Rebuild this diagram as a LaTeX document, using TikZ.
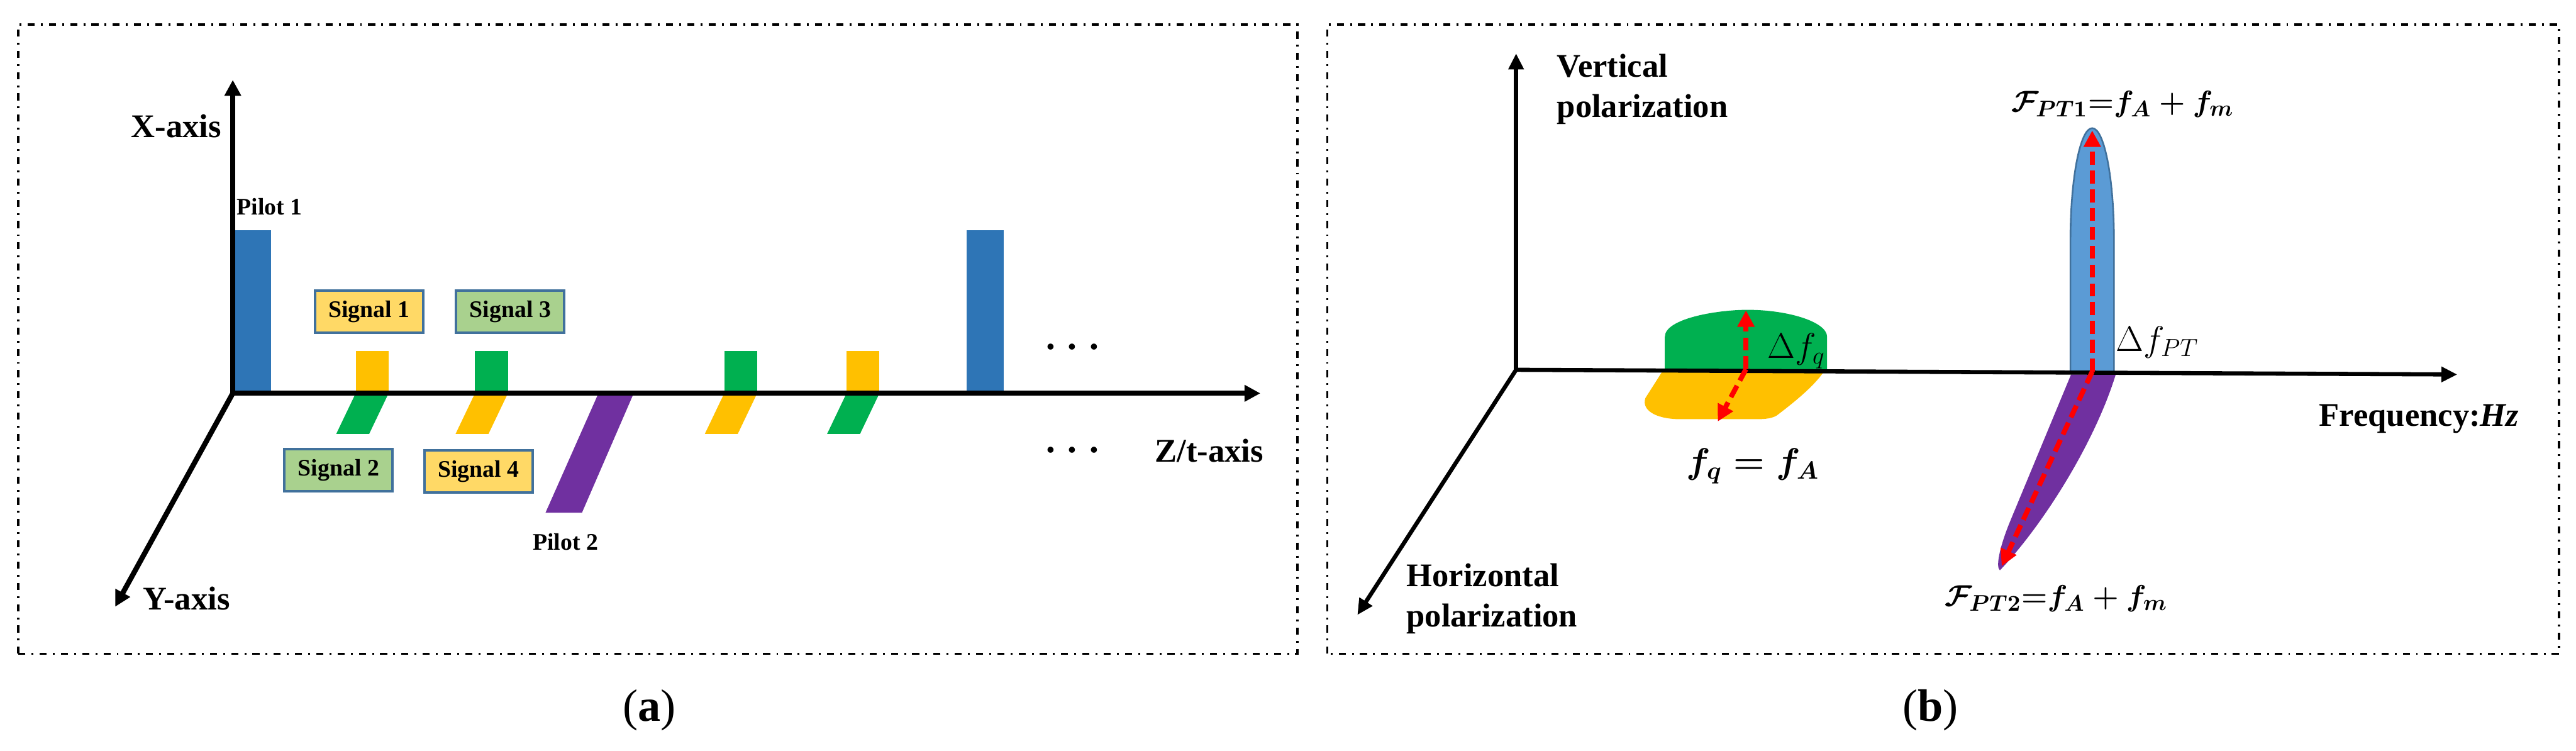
\documentclass[tikz,border=0pt]{standalone}
\usepackage{fontspec}
\setmainfont{Liberation Serif}
\usepackage{amsmath}
\usetikzlibrary{arrows.meta, positioning}
\definecolor{pilotBlue}{HTML}{2E75B6}
\definecolor{pilotPurple}{HTML}{7030A0}
\definecolor{sigYellow}{HTML}{FFC000}
\definecolor{sigGreen}{HTML}{00B050}
\definecolor{boxYellow}{HTML}{FFD966}
\definecolor{boxGreen}{HTML}{A9D18E}
\definecolor{boxBorder}{HTML}{41719C}
\definecolor{lobeBlue}{HTML}{5B9BD5}

\begin{document}
\begin{tikzpicture}[
        frame/.style={line width=1.1pt, dash pattern=on 3.4pt off 3pt on 0.9pt off 3pt},
        ax/.style={line width=2.5pt, -{Triangle[length=0.27cm, width=0.27cm]}},
        axb/.style={line width=2pt, -{Triangle[length=0.27cm, width=0.25cm]}},
        lbl/.style={font=\fontsize{16pt}{19.5pt}\selectfont\bfseries, inner sep=0pt},
        sm/.style={font=\fontsize{11.5pt}{14pt}\selectfont\bfseries, inner sep=0pt},
        sig/.style={draw=boxBorder, line width=1.2pt, minimum width=1.84cm, minimum height=0.72cm,
            inner sep=0pt, font=\fontsize{11.5pt}{14pt}\selectfont\bfseries},
        dotrow/.style={font=\fontsize{18pt}{20pt}\selectfont\bfseries, inner sep=0pt, anchor=base},
        mth/.style={font=\fontsize{15.5pt}{18pt}\selectfont, inner sep=0pt},
        mthd/.style={font=\fontsize{17pt}{20pt}\selectfont, inner sep=0pt},
        capt/.style={font=\fontsize{22pt}{26pt}\selectfont, inner sep=0pt},
        rdash/.style={red, line width=2.4pt, dash pattern=on 0.22cm off 0.1cm,
            -{Triangle[length=0.28cm, width=0.28cm]}}
    ]
        \useasboundingbox (0,0) rectangle (43.82,12.77);

        % (a) pilots and signals
        \draw[frame] (0.31,1.65) rectangle (22.07,12.35);
        \coordinate (oa) at (3.96,6.08);
        \coordinate (xa) at (3.96,11.41);
        \coordinate (za) at (21.44,6.08);
        \coordinate (ya) at (1.96,2.45);
        \fill[pilotBlue] (3.99,6.08) rectangle (4.61,8.85);
        \fill[pilotBlue] (16.44,6.08) rectangle (17.07,8.85);
        \fill[pilotPurple] (10.18,6.08) -- (10.78,6.08) -- (9.90,4.05) -- (9.28,4.05) -- cycle;
        \foreach \x/\up/\dn in {6.05/sigYellow/sigGreen, 8.08/sigGreen/sigYellow,
                12.32/sigGreen/sigYellow, 14.40/sigYellow/sigGreen} {
            \fill[\up] (\x,6.08) rectangle ++(0.56,0.72);
            \fill[\dn] (\x,6.08) -- ++(0.56,0) -- ++(-0.33,-0.69) -- ++(-0.56,0) -- cycle;
        }
        \draw[ax] (oa) -- (xa);
        \draw[ax] (oa) -- (za);
        \draw[ax] (oa) -- (ya);
        \node[lbl] (xlab) at (3.00,10.62) {X-axis};
        \node[lbl] (ylab) at (3.17,2.59) {Y-axis};
        \node[lbl] (zlab) at (20.57,5.10) {Z/t-axis};
        \node[sm, anchor=west] (p1lab) at (4.02,9.25) {Pilot 1};
        \node[sm] (p2lab) at (9.62,3.55) {Pilot 2};
        \node[sig, fill=boxYellow] (s1) at (6.28,7.47) {Signal 1};
        \node[sig, fill=boxGreen] (s3) at (8.68,7.47) {Signal 3};
        \node[sig, fill=boxGreen] (s2) at (5.76,4.77) {Signal 2};
        \node[sig, fill=boxYellow] (s4) at (8.14,4.75) {Signal 4};
        \node[dotrow] (dotsup) at (18.24,6.83) {. . .};
        \node[dotrow] (dotsdn) at (18.24,5.07) {. . .};
        \node[capt] (capa) at (11.05,0.69) {(\textbf{a})};

        % (b) polarization spectrum
        \draw[frame] (22.58,1.65) rectangle (43.53,12.35);
        \coordinate (ob) at (25.79,6.48);
        \coordinate (vb) at (25.79,11.86);
        \coordinate (fb) at (41.80,6.40);
        \coordinate (hb) at (23.09,2.31);
        \fill[sigGreen] (28.32,6.45) -- (28.32,7.04) .. controls (28.32,7.35) and (29.2,7.50) .. (29.73,7.50)
            .. controls (30.4,7.50) and (31.08,7.30) .. (31.08,7.04) -- (31.08,6.45) -- cycle;
        \fill[sigYellow] (28.27,6.44) -- (27.99,6.00) .. controls (27.92,5.80) and (28.15,5.65) .. (28.55,5.64)
            -- (29.90,5.64) .. controls (30.05,5.64) and (30.15,5.66) .. (30.22,5.70)
            .. controls (30.55,5.95) and (30.85,6.20) .. (31.02,6.44) -- cycle;
        \filldraw[fill=lobeBlue, draw=boxBorder, line width=0.8pt] (35.22,6.43) -- (35.22,8.69)
            arc[start angle=180, end angle=0, x radius=0.37, y radius=1.90] -- (35.96,6.43) -- cycle;
        \fill[pilotPurple] (35.23,6.40) -- (34.18,3.87) .. controls (34.00,3.42) and (33.95,3.12) .. (34.02,3.07)
            .. controls (34.72,3.80) and (35.62,5.20) .. (35.99,6.40) -- cycle;
        \draw[axb] (ob) -- (vb);
        \draw[axb] (ob) -- (fb);
        \draw[axb] (ob) -- (hb);
        \coordinate (q0) at (29.70,6.49);
        \coordinate (q1) at (29.70,7.49);
        \coordinate (q2) at (29.22,5.60);
        \coordinate (t0) at (35.59,6.45);
        \coordinate (t1) at (35.59,10.55);
        \coordinate (t2) at (34.05,3.14);
        \draw[rdash] (q0) -- (q1);
        \draw[rdash] (q0) -- (q2);
        \draw[rdash] (t0) -- (t1);
        \draw[rdash] (t0) -- (t2);
        \node[lbl, anchor=west, align=left] (vlab) at (26.48,11.25) {Vertical\\polarization};
        \node[lbl, anchor=west, align=left] (hlab) at (23.92,2.59) {Horizontal\\polarization};
        \node[lbl] (flab) at (41.15,5.64) {Frequency:\textit{Hz}};
        \node[mth] (fpt1) at (36.11,11.00) {$\boldsymbol{\mathcal{F}_{PT1}{=}f_A+f_m}$};
        \node[mth] (fpt2) at (34.98,2.59) {$\boldsymbol{\mathcal{F}_{PT2}{=}f_A+f_m}$};
        \node[mth, font=\fontsize{17pt}{20pt}\selectfont] (fq) at (29.82,4.84) {$\boldsymbol{f_q=f_A}$};
        \node[mthd] (dfq) at (30.56,6.80) {$\Delta f_q$};
        \node[mthd] (dfpt) at (36.70,6.95) {$\Delta f_{PT}$};
        \node[capt] (capb) at (32.84,0.69) {(\textbf{b})};
    \end{tikzpicture}
\end{document}
